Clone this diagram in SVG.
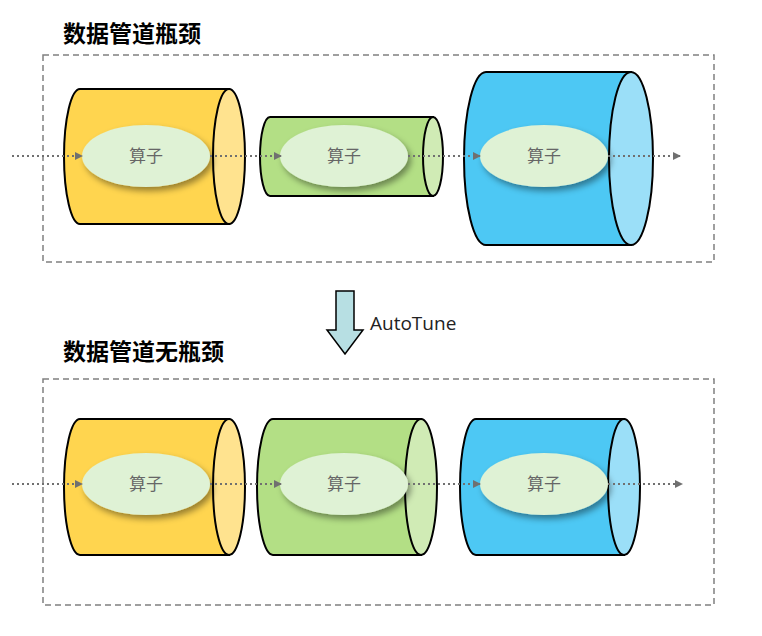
<svg xmlns="http://www.w3.org/2000/svg" width="762" height="636" viewBox="0 0 762 636">
<style>
.box{fill:none;stroke:#808080;stroke-width:1.5;stroke-dasharray:6,4}
.cyl{stroke:#000;stroke-width:2}
.op{fill:#dff2d5;filter:url(#sh)}
.opt{font-family:"Noto Sans CJK SC",sans-serif;font-size:17px;fill:#666;text-anchor:middle}
.ttl{font-family:"Noto Sans CJK SC",sans-serif;font-size:23px;font-weight:bold;fill:#000}
.flow{stroke:#707070;stroke-width:2;stroke-dasharray:2,3;fill:none;marker-end:url(#ar)}
.y{fill:#ffd54f}.yl{fill:#ffe38f}.g{fill:#b3df85}.gl{fill:#d0ebb5}.b{fill:#4dc8f4}.bl{fill:#9bdff8}
</style>
<defs>
<filter id="sh" x="-20%" y="-20%" width="150%" height="160%"><feDropShadow dx="3" dy="4" stdDeviation="3" flood-color="#000" flood-opacity="0.4"/></filter>
<marker id="ar" markerWidth="8" markerHeight="8" refX="7" refY="4" orient="auto" markerUnits="userSpaceOnUse"><path d="M0,0 L8,4 L0,8 Z" fill="#707070"/></marker>
</defs>
<text class="ttl" x="63" y="42">数据管道瓶颈</text>
<rect class="box" x="43" y="55" width="671" height="207"/>
<g id="t1"><path class="cyl y" d="M80,89 L229,89 L229,224 L80,224 A16,67.5 0 0 1 80,89 Z"/><ellipse class="cyl yl" cx="229" cy="156.5" rx="16" ry="67.5"/></g>
<g id="t2"><path class="cyl g" d="M270,117 L433,117 L433,196 L270,196 A10,39.5 0 0 1 270,117 Z"/><ellipse class="cyl gl" cx="433" cy="156.5" rx="10" ry="39.5"/></g>
<g id="t3"><path class="cyl b" d="M486,72 L631,72 L631,245 L486,245 A22,86.5 0 0 1 486,72 Z"/><ellipse class="cyl bl" cx="631" cy="158.5" rx="22" ry="86.5"/></g>
<g id="ops1">
<ellipse class="op" cx="146" cy="156" rx="64" ry="31"/><text class="opt" x="146" y="162">算子</text>
<ellipse class="op" cx="344" cy="156" rx="64" ry="31"/><text class="opt" x="344" y="162">算子</text>
<ellipse class="op" cx="544" cy="156" rx="64" ry="31"/><text class="opt" x="544" y="162">算子</text>
</g>
<g id="arrow"><path d="M336,291 H354 V330 H363 L345,354 L327,330 H336 Z" fill="#b7dfe3" stroke="#000" stroke-width="1.5"/>
<text x="370" y="330" font-family="'Open Sans',sans-serif" font-size="19" fill="#222">AutoTune</text></g>
<text class="ttl" x="63" y="360">数据管道无瓶颈</text>
<rect class="box" x="43" y="379" width="671" height="226"/>
<g id="b1"><path class="cyl y" d="M80,419 L229,419 L229,555 L80,555 A16,68 0 0 1 80,419 Z"/><ellipse class="cyl yl" cx="229" cy="487" rx="16" ry="68"/></g>
<g id="b2"><path class="cyl g" d="M273,419 L421,419 L421,555 L273,555 A16,68 0 0 1 273,419 Z"/><ellipse class="cyl gl" cx="421" cy="487" rx="16" ry="68"/></g>
<g id="b3"><path class="cyl b" d="M476,419 L624,419 L624,555 L476,555 A16,68 0 0 1 476,419 Z"/><ellipse class="cyl bl" cx="624" cy="487" rx="16" ry="68"/></g>
<g id="ops2">
<ellipse class="op" cx="146" cy="484" rx="64" ry="31"/><text class="opt" x="146" y="490">算子</text>
<ellipse class="op" cx="344" cy="484" rx="64" ry="31"/><text class="opt" x="344" y="490">算子</text>
<ellipse class="op" cx="544" cy="484" rx="64" ry="31"/><text class="opt" x="544" y="490">算子</text>
</g>
<g id="connectors">
<path class="flow" d="M12,156 H82"/><path class="flow" d="M210,156 H281"/><path class="flow" d="M408,156 H480"/><path class="flow" d="M608,156 H680"/>
<path class="flow" d="M12,484 H82"/><path class="flow" d="M210,484 H281"/><path class="flow" d="M408,484 H480"/><path class="flow" d="M608,484 H682"/>
</g>
</svg>
